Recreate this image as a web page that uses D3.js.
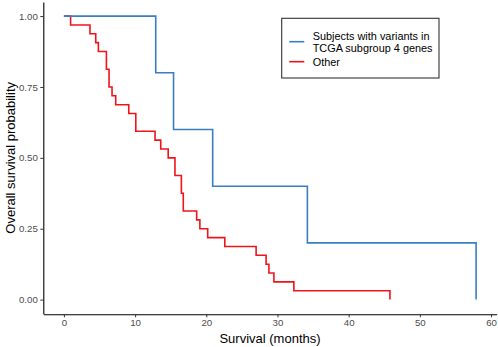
<!DOCTYPE html>
<html>
<head>
<meta charset="utf-8">
<script src="https://cdn.jsdelivr.net/npm/d3@7"></script>
<style>
  html, body { margin: 0; padding: 0; background: #fff; }
  svg { display: block; font-family: "Liberation Sans", Arial, sans-serif; }
</style>
</head>
<body>
<svg id="chart" width="498" height="347"></svg>
<script>
// Kaplan-Meier step data
const seriesNames = ["Subjects with variants in\nTCGA subgroup 4 genes", "Other"];
const seriesColors = ["#3a7ec2", "#f0141a"];
const blueTimes = [0, 12.9, 15.4, 20.9, 34.2, 57.9];
const blueSurv  = [1.0, 0.8, 0.6, 0.4, 0.2, 0.0];
const redTimes = [0, 0.94, 3.66, 4.47, 4.84, 5.97, 6.34, 6.76, 7.28, 9.11, 10.1, 12.8, 13.6, 14.65,
                  15.6, 16.5, 16.77, 18.65, 19.1, 20.2, 22.6, 27.0, 28.4, 28.8, 29.5, 32.3, 45.8];
const redSurv  = [1.0, 0.96875, 0.9375, 0.90625, 0.875, 0.8125, 0.75, 0.71875, 0.6875, 0.65625, 0.59375, 0.5625, 0.53125, 0.5,
                  0.4375, 0.375, 0.3125, 0.28125, 0.25, 0.21875, 0.1875, 0.15625, 0.125, 0.09375, 0.0625, 0.03125, 0.0];
const xTicks = [0, 10, 20, 30, 40, 50, 60];
const yTicks = [0, 0.25, 0.5, 0.75, 1.0];
const xTitle = "Survival (months)";
const yTitle = "Overall survival probability";

const svg = d3.select("#chart");
const L = 43.3, R = 496.7, T = 1.9, B = 313.8;
const x = d3.scaleLinear().domain([-2.895, 60.795]).range([L, R]);
const y = d3.scaleLinear().domain([-0.05, 1.05]).range([B, T]);

const line = d3.line().x(d => x(d[0])).y(d => y(d[1])).curve(d3.curveStepAfter);

const redData = d3.zip(redTimes, redSurv);
const blueData = d3.zip(blueTimes, blueSurv);

svg.append("path").datum(redData).attr("d", line)
  .attr("fill", "none").attr("stroke", seriesColors[1]).attr("stroke-width", 1.6);
svg.append("path").datum(blueData).attr("d", line)
  .attr("fill", "none").attr("stroke", seriesColors[0]).attr("stroke-width", 1.6);

// Axes
const xAxis = svg.append("g").attr("transform", `translate(0,${B + 0.5})`)
  .call(d3.axisBottom(x).tickValues(xTicks).tickSize(3).tickPadding(2).tickSizeOuter(0));
const yAxis = svg.append("g").attr("transform", `translate(${L},0)`)
  .call(d3.axisLeft(y).tickValues(yTicks).tickFormat(d3.format(".2f")).tickSize(3).tickPadding(2.5).tickSizeOuter(0));

[xAxis, yAxis].forEach(g => {
  g.select(".domain").attr("stroke", "#000").attr("stroke-width", 1.1);
  g.selectAll(".tick line").attr("stroke", "#333").attr("stroke-width", 1);
  g.selectAll(".tick text").attr("fill", "#4d4d4d").attr("font-size", "9.7px")
    .attr("font-family", "'Liberation Sans', Arial, sans-serif");
});

// Axis titles
svg.append("text").attr("x", (L + R) / 2).attr("y", 343)
  .attr("text-anchor", "middle").attr("font-size", "13px").attr("fill", "#000").text(xTitle);
svg.append("text").attr("transform", `translate(14.5,${(T + B) / 2}) rotate(-90)`)
  .attr("text-anchor", "middle").attr("font-size", "13px").attr("fill", "#000").text(yTitle);

// Legend
const lg = svg.append("g");
lg.append("rect").attr("x", 281.7).attr("y", 18.3).attr("width", 157.3).attr("height", 59.7)
  .attr("fill", "#fff").attr("stroke", "#333").attr("stroke-width", 1.1);
const keyY = [41.7, 61.7];
const labelLines = [seriesNames[0].split("\n"), [seriesNames[1]]];
[0, 1].forEach(i => {
  lg.append("line").attr("x1", 289.3).attr("x2", 304.3).attr("y1", keyY[i]).attr("y2", keyY[i])
    .attr("stroke", seriesColors[i]).attr("stroke-width", 1.6);
});
const t1 = lg.append("text").attr("font-size", "10.9px").attr("fill", "#000");
t1.append("tspan").attr("x", 312.7).attr("y", 40).text(labelLines[0][0]);
t1.append("tspan").attr("x", 312.7).attr("y", 52.3).text(labelLines[0][1]);
lg.append("text").attr("font-size", "10.9px").attr("fill", "#000")
  .attr("x", 312.7).attr("y", 66.3).text(labelLines[1][0]);
</script>
</body>
</html>
